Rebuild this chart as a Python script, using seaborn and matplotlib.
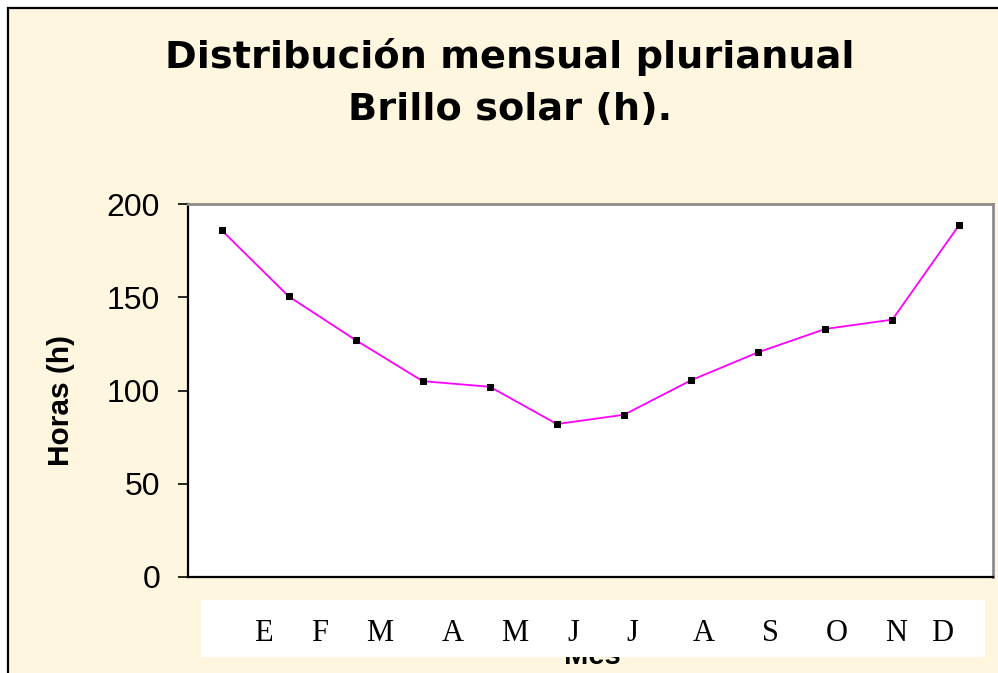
import matplotlib
matplotlib.use("Agg")
import matplotlib.pyplot as plt
import matplotlib.patches as mpatches
import seaborn as sns
import pandas as pd
import numpy as np

# ---- data ----
months = ["E", "F", "M", "A", "M", "J", "J", "A", "S", "O", "N", "D"]
hours = [186, 150.5, 127, 105, 102, 82, 87, 105.5, 120.5, 133, 138, 189]
yticks = [0, 50, 100, 150, 200]
title_lines = ["Distribución mensual plurianual", "Brillo solar (h)."]
ylabel = "Horas (h)"
xlabel = "Mes"

# layout: pixel x-positions of the month letters in the label box
label_px = [263, 320, 380, 453, 515, 573, 632, 704, 770, 837, 896, 942]

W, H = 998, 673
sns.set_theme(style="white")
plt.rcParams["font.family"] = ["Liberation Sans", "DejaVu Sans"]

fig = plt.figure(figsize=(W / 100, H / 100), dpi=100)
fig.patch.set_facecolor("white")

cream = "#FEF6DE"
frame = mpatches.Rectangle((8 / W, -0.2), 1.5, 1.2 - 8 / H,
                           transform=fig.transFigure, facecolor=cream,
                           edgecolor="black", linewidth=1.6, zorder=-10)
fig.patches.append(frame)

def fx(px):
    return px / W

def fy(py):
    return 1 - py / H

ax = fig.add_axes([fx(188), fy(577), (993 - 188) / W, (577 - 204) / H])
ax.set_facecolor("white")

df = pd.DataFrame({"pos": np.arange(len(months)), "hours": hours})
sns.lineplot(data=df, x="pos", y="hours", ax=ax, color="#FF00FF",
             linewidth=1.3, marker="s", markersize=5,
             markerfacecolor="black", markeredgecolor="black")

ax.set_xlim(-0.5, len(months) - 0.5)
ax.set_ylim(0, 200)
ax.set_yticks(yticks)
ax.set_yticklabels([str(v) for v in yticks], fontsize=23)
ax.set_xticks([])
ax.set_xlabel("")
ax.set_ylabel("")
ax.tick_params(axis="y", length=7, width=1.2, color="black", pad=13,
               left=True, labelcolor="black")

for s in ["left", "bottom"]:
    ax.spines[s].set_color("black")
    ax.spines[s].set_linewidth(1.6)
for s in ["top", "right"]:
    ax.spines[s].set_color("#8C8C8C")
    ax.spines[s].set_linewidth(2)
    ax.spines[s].set_visible(True)

# axis titles
fig.text(fx(61), fy(401), ylabel, rotation=90, ha="center", va="center",
         fontsize=21.5, fontweight="bold", color="black")
fig.text(fx(592), fy(664), xlabel, ha="center", va="baseline",
         fontsize=21, fontweight="bold", color="black", zorder=3)

# white label box over the x-axis title
box = fig.add_axes([fx(201), fy(657), (985 - 201) / W, (657 - 600) / H])
box.set_zorder(5)
box.set_facecolor("white")
box.set_xlim(201, 985)
box.set_ylim(0, 1)
for s in box.spines.values():
    s.set_visible(False)
box.set_xticks([])
box.set_yticks([])
for m, p in zip(months, label_px):
    box.text(p, 0.42, m, ha="center", va="center", fontsize=22,
             family=["Liberation Serif", "DejaVu Serif"], color="black")

# title
fig.text(fx(510), fy(57), title_lines[0], ha="center", va="center",
         fontsize=27.5, fontweight="bold", family=["DejaVu Sans"], color="black")
fig.text(fx(510), fy(110), title_lines[1], ha="center", va="center",
         fontsize=27.5, fontweight="bold", family=["DejaVu Sans"], color="black")

fig.savefig("out.png", dpi=100, facecolor=fig.get_facecolor())
